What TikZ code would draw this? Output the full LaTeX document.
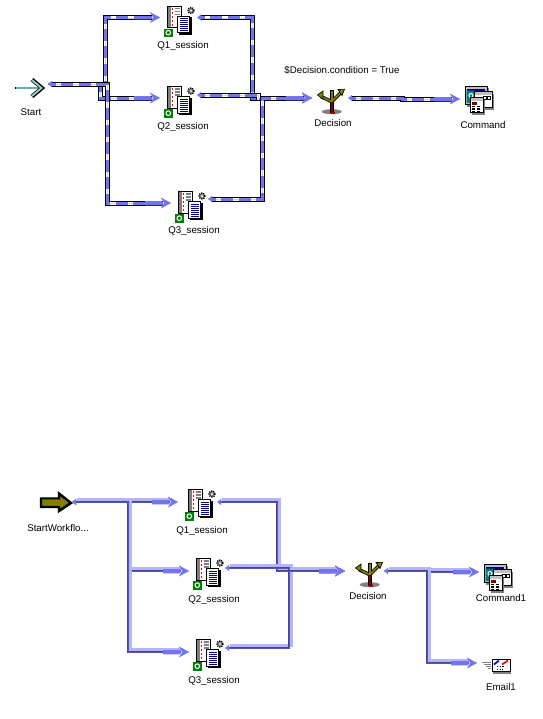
\documentclass[tikz,border=0pt]{standalone}
\usepackage{xcolor}
\definecolor{WireBlue}{HTML}{7474EE}
\definecolor{WireLight}{HTML}{B4B4FF}
\definecolor{WireDark}{HTML}{46468C}
\definecolor{IconGrey}{HTML}{808080}
\definecolor{IconSilver}{HTML}{C0C0C0}
\definecolor{IconNavy}{HTML}{000080}
\definecolor{IconGreen}{HTML}{007F00}
\definecolor{IconTeal}{HTML}{007F7F}
\definecolor{Olive}{HTML}{808000}
\definecolor{Maroon}{HTML}{800000}
\usepackage{fontspec}
\setmainfont{Liberation Sans}
\usepackage{tikz}
\usetikzlibrary{arrows.meta,positioning}
\def\px{.75pt}

\begin{document}
\begin{tikzpicture}[
  x=.75pt,y=-.75pt,on grid,
  every node/.style={font=\fontsize{7.3}{8}\selectfont,align=center,inner sep=0pt,outer sep=0pt},
  port/.style={minimum height=6pt,minimum width=#1*\px},
  tag/.style={text height=7pt,text depth=1.5pt},
  wiretips/.style={{Latex[length=3pt,width=4.5pt]}-{Rectangle[length=13pt,width=2.6pt,sep=-1pt]Stealth[length=7.5pt,width=8pt,inset=2.5pt]}},
  dashwire/.style={wiretips,line width=.01pt,draw=WireBlue,
    preaction={draw=black,line width=3.75pt,-,shorten >=6pt,shorten <=3pt},
    preaction={draw=WireBlue,line width=2.25pt,-,shorten >=6pt,shorten <=2pt},
    preaction={draw=white,line width=2.25pt,-,shorten >=14pt,shorten <=6pt,dash pattern=on 4pt off 9pt}},
  bevelwire/.style={wiretips,line width=.01pt,draw=WireBlue,
    preaction={draw=WireLight,line width=2.25pt,-,shorten >=6pt,shorten <=2pt,transform canvas={xshift=1.8pt,yshift=1.8pt}},
    preaction={draw=WireDark,line width=1.9pt,-,shorten >=6pt,shorten <=2pt}},
  sessionicon/.pic={
    \fill[white] (-12,-15.5) rectangle (2,6);
    \fill[IconGrey] (-12,-15.5) rectangle (-9,6);
    \draw[line width=.75pt] (-12,-15.5) rectangle (2,6);
    \draw[red,line width=.75pt,dash pattern=on 1.5pt off 1.5pt] (-7,-14) -- (-7,5);
    \foreach \ly in {-13,-10,-7} \draw[IconGrey,line width=1pt] (-5,\ly) -- (0,\ly);
    \fill (-1,-4.5) rectangle (12,13);
    \fill[white] (-2,-5.5) rectangle (10,11);
    \draw[line width=.75pt] (-2,-5.5) rectangle (10,11);
    \foreach \ly in {-3,-1,...,9} \draw[IconNavy,line width=.7pt] (0,\ly) -- (8,\ly);
    \fill[IconGreen] (-15.5,7) rectangle (-7,15.5);
    \draw[white,line width=.75pt] (-11.2,11.2) circle (2.3);
    \fill[IconGrey] (11.5,-11) circle (3);
    \draw[line width=1pt,dash pattern=on .8pt off .8pt] (11.5,-11) circle (3);
    \fill[white] (11.5,-11) circle (1);
  },
  commandicon/.pic={
    \fill[IconGrey] (-12,-11.5) rectangle (10,7);
    \draw[fill=IconSilver,line width=.75pt] (-14,-13.5) rectangle (8,5);
    \fill[IconNavy] (-12.5,-10.5) rectangle (6,3.5);
    \fill[IconTeal] (-12.5,-9) -- (-3,-9) -- (-6,3.5) -- (-12.5,3.5) -- cycle;
    \draw[white,line width=.75pt] (-8,-4) circle (2);
    \fill[IconGrey] (-3,-6) rectangle (15,10);
    \draw[fill=white,line width=.75pt] (-5,-8) rectangle (13,8);
    \fill[IconSilver] (-4.5,-7.5) rectangle (12.5,-5);
    \foreach \lx in {4,8.5} \draw[line width=.75pt] (\lx,-3) rectangle ++(3,3);
    \fill[IconGrey] (-7,0) rectangle (6,15);
    \draw[fill=white,line width=.75pt] (-9,-2) rectangle (4,13);
    \fill[IconSilver] (-8.5,-1.5) rectangle (3.5,1);
    \fill[Maroon] (-7,2.5) rectangle (-2,5);
    \foreach \ly in {7,9.5,12} \draw[line width=1pt,dash pattern=on 2.5pt off 1pt] (-7,\ly) -- (2,\ly);
  },
  decisionicon/.pic={
    \fill[IconGrey] (.7,11.2) ellipse (10 and 2.5);
    \draw[line width=2.6pt] (-10,-4) -- (.7,1.2) -- (10,-8);
    \draw[line width=2.8pt] (.7,-10.5) -- (.7,12);
    \draw[Olive,line width=1.3pt] (-10,-4) -- (.7,1.2) -- (10,-8);
    \draw[Olive,line width=1.5pt] (.7,-10) -- (.7,1);
    \draw[Maroon,line width=1.5pt] (.7,1) -- (.7,11.5);
    \draw[line width=.5pt,fill=Olive] (-13.5,-5.5) -- (-8,-9.5) -- (-8,-1.5) -- cycle;
    \draw[line width=.5pt,fill=Olive] (13.5,-11.2) -- (7,-11) -- (11,-5) -- cycle;
    \draw[red!70!black,line width=1pt] (-.5,12.5) -- (4,12.5);
  },
  emailicon/.pic={
    \foreach \ly in {-3,-1,1,3} \draw[IconGrey,line width=.9pt] (-11+\ly,\ly) -- (-5,\ly);
    \fill[IconGrey] (-3,-4.5) rectangle (15,8);
    \draw[fill=white,line width=.75pt] (-4,-6.5) rectangle (14,6);
    \draw[line width=1.2pt] (-4,6) -- (14,6);
    \draw[red,line width=1.3pt] (6,-1) -- (12,-5);
    \draw[blue,line width=1.3pt] (-2,-1) -- (3,-5);
    \draw[line width=.75pt,dash pattern=on 1pt off 1pt] (1,1) -- (9,1);
    \draw[line width=.75pt,dash pattern=on 1pt off 1pt] (1,3.5) -- (7,3.5);
  },
  chevronicon/.pic={
    \draw[line width=1.9pt] (-14,0) -- (10,0);
    \draw[IconTeal!60,line width=.8pt] (-13,0) -- (10,0);
    \draw[line width=3pt] (3,-8.5) -- (13,0) -- (3,8.5);
    \draw[IconTeal!40,line width=1.4pt] (3,-8) -- (12.5,0) -- (3,8);
  },
  workflowicon/.pic={
    \draw[fill=Olive,line width=1.8pt,line join=miter] (-15,-3.5) -- (3,-3.5) -- (3,-8.5) -- (15,1) -- (3,9) -- (3,5) -- (-15,5) -- cycle;
    \draw[IconGreen,line width=.8pt] (-14,-2.5) -- (3,-2.5);
  }
]
\useasboundingbox (0,0) rectangle (543,719);
\fill[white] (0,0) rectangle (543,719);
\node[port=34] (start) at (31,84) {};
\node[port=37,above right=66.5*\px and 147.5*\px of start] (q1) {};
\node[port=37,below=80.5*\px of q1] (q2) {};
\node[port=37,below right=105*\px and 11*\px of q2] (q3) {};
\node[port=36,right=151.5*\px of q2] (decision) {};
\node[port=38,below right=1*\px and 149*\px of decision] (command) {};
\node[tag,below=28*\px of start] (starttag) {Start};
\node[tag,below right=27.5*\px and 4.5*\px of q1] (q1tag) {Q1\_session};
\node[tag,below right=28*\px and 4.5*\px of q2] (q2tag) {Q2\_session};
\node[tag,below right=27*\px and 4.5*\px of q3] (q3tag) {Q3\_session};
\node[tag,below right=25*\px and 3*\px of decision] (decisiontag) {Decision};
\node[tag,below right=26*\px and 4*\px of command] (commandtag) {Command};
\node[tag,above right=28*\px and 12*\px of decision] (condition) {\$Decision.condition = True};
\pic at ([shift={(-2,4)}]start) {chevronicon};
\pic at ([shift={(1,4)}]q1) {sessionicon};
\pic at ([shift={(1,4)}]q2) {sessionicon};
\pic at ([shift={(1,4)}]q3) {sessionicon};
\pic at ([shift={(1,2.5)}]decision) {decisionicon};
\pic at ([shift={(0,.5)}]command) {commandicon};
\draw[dashwire] (start.east) -- ++(52,0) |- (q2.west);
\draw[dashwire] (start.east) -- ++(57,0) |- (q1.west);
\draw[dashwire] (start.east) -- ++(59,0) |- (q3.west);
\draw[dashwire] (q1.east) -- ++(55,0) |- (decision.west);
\draw[dashwire] ([yshift=2.25pt]q2.east) -- ++(61,0) |- (decision.west);
\draw[dashwire] ([yshift=3pt]q3.east) -- ++(54,0) |- (decision.west);
\draw[dashwire] (decision.east) -- ++(54,0) |- (command.west);

\node[port=32] (wfstart) at (56,502) {};
\node[port=39,right=141.5*\px of wfstart] (wfq1) {};
\node[port=36,below right=69*\px and 9.5*\px of wfq1] (wfq2) {};
\node[port=36,below=81*\px of wfq2] (wfq3) {};
\node[port=39,right=157.5*\px of wfq2] (wfdecision) {};
\node[port=38,below right=1*\px and 133.5*\px of wfdecision] (wfcommand) {};
\node[port=38,below=91*\px of wfcommand,xshift=-2*\px] (wfemail) {};
\node[tag,below right=26*\px and 2*\px of wfstart] (wfstarttag) {StartWorkflo...};
\node[tag,below right=28*\px and 4.5*\px of wfq1] (wfq1tag) {Q1\_session};
\node[tag,below right=28*\px and 7*\px of wfq2] (wfq2tag) {Q2\_session};
\node[tag,below right=28*\px and 7*\px of wfq3] (wfq3tag) {Q3\_session};
\node[tag,below right=25*\px and 3.5*\px of wfdecision] (wfdecisiontag) {Decision};
\node[tag,below right=26*\px and 3*\px of wfcommand] (wfcommandtag) {Command1};
\node[tag,below right=24*\px and 5*\px of wfemail] (wfemailtag) {Email1};
\pic at (wfstart) {workflowicon};
\pic at ([shift={(3,3)}]wfq1) {sessionicon};
\pic at ([shift={(1.5,3)}]wfq2) {sessionicon};
\pic at ([shift={(1.5,3)}]wfq3) {sessionicon};
\pic at ([shift={(4.5,2.5)}]wfdecision) {decisionicon};
\pic at ([shift={(0,5.5)}]wfcommand) {commandicon};
\pic at ([shift={(0,2.5)}]wfemail) {emailicon};
\draw[bevelwire] (wfstart.east) -- ++(56,0) |- (wfq1.west);
\draw[bevelwire] (wfstart.east) -- ++(56,0) |- (wfq2.west);
\draw[bevelwire] (wfstart.east) -- ++(56,0) |- (wfq3.west);
\draw[bevelwire] (wfq1.east) -- ++(60,0) |- (wfdecision.west);
\draw[bevelwire] ([yshift=2.25pt]wfq2.east) -- ++(64,0) |- (wfdecision.west);
\draw[bevelwire] ([yshift=3pt]wfq3.east) -- ++(64,0) |- (wfdecision.west);
\draw[bevelwire] (wfdecision.east) -- ++(43,0) |- (wfcommand.west);
\draw[bevelwire] (wfdecision.east) -- ++(43,0) |- (wfemail.west);
\end{tikzpicture}
\end{document}
